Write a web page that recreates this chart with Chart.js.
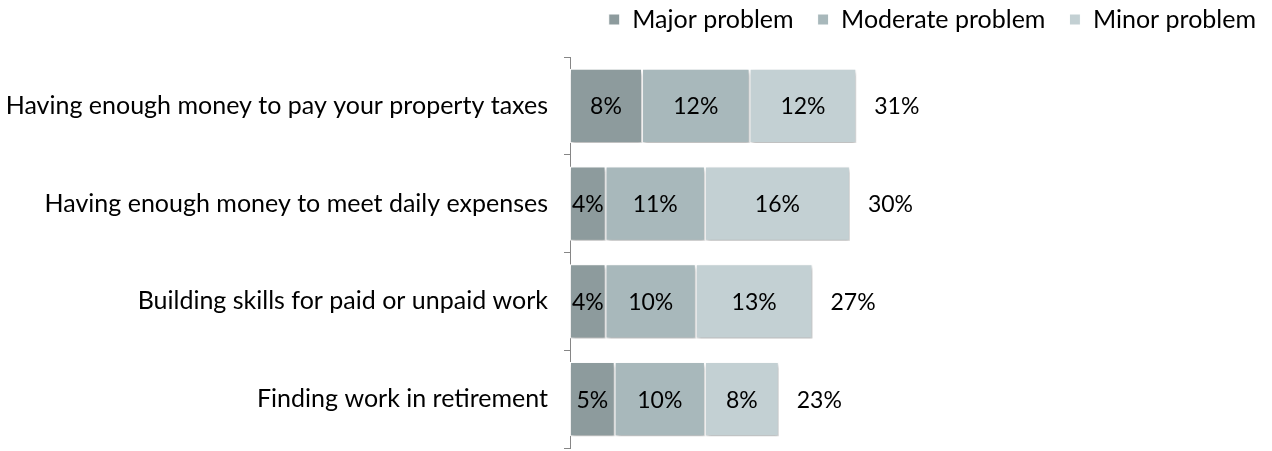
<!DOCTYPE html>
<html lang="en">
<head>
  <meta charset="UTF-8">
  <title>Problems in retirement</title>
  <script src="https://cdn.jsdelivr.net/npm/chart.js"></script>
  <style>
    html, body { margin: 0; padding: 0; background: #fff; overflow: hidden; }
  </style>
</head>
<body>
  <canvas id="problemChart" width="1272" height="451"></canvas>

  <script>
    const categories = [
      'Having enough money to pay your property taxes',
      'Having enough money to meet daily expenses',
      'Building skills for paid or unpaid work',
      'Finding work in retirement'
    ];
    const majorProblem = [7.9, 3.9, 3.9, 4.9];
    const moderateProblem = [11.8, 10.9, 9.9, 9.9];
    const minorProblem = [11.7, 15.9, 12.8, 8.1];
    const totals = [31, 30, 27, 23];

    const FONT = 'Lato, "Open Sans", sans-serif';

    // draws the % inside each segment and the total after the bar
    const labelPlugin = {
      id: 'labels',
      afterDatasetsDraw(chart) {
        const ctx = chart.ctx;
        ctx.save();
        ctx.font = '23px ' + FONT;
        ctx.fillStyle = '#000';
        ctx.textBaseline = 'middle';
        ctx.textAlign = 'center';
        chart.data.datasets.forEach((ds, i) => {
          chart.getDatasetMeta(i).data.forEach((bar, j) => {
            ctx.fillText(Math.round(ds.data[j]) + '%', (bar.base + bar.x) / 2, bar.y + 1);
          });
        });
        const last = chart.getDatasetMeta(chart.data.datasets.length - 1);
        ctx.textAlign = 'left';
        last.data.forEach((bar, j) => {
          ctx.fillText(totals[j] + '%', bar.x + 18, bar.y + 1);
        });
        ctx.restore();
      }
    };

    const shadowPlugin = {
      id: 'shadow',
      beforeDatasetsDraw(chart) {
        const ctx = chart.ctx;
        ctx.save();
        ctx.shadowColor = 'rgba(0,0,0,0.28)';
        ctx.shadowBlur = 4;
        ctx.shadowOffsetX = 1;
        ctx.shadowOffsetY = 3;
      },
      afterDatasetsDraw(chart) {
        chart.ctx.restore();
      }
    };

    new Chart(document.getElementById('problemChart'), {
      type: 'bar',
      data: {
        labels: categories,
        datasets: [
          { label: 'Major problem', data: majorProblem, backgroundColor: '#8d9b9d' },
          { label: 'Moderate problem', data: moderateProblem, backgroundColor: '#a8b8bb' },
          { label: 'Minor problem', data: minorProblem, backgroundColor: '#c3d0d3' }
        ]
      },
      options: {
        indexAxis: 'y',
        responsive: false,
        animation: false,
        datasets: {
          bar: {
            categoryPercentage: 1,
            barPercentage: 0.76,
            borderColor: '#ffffff',
            borderWidth: 1,
            borderSkipped: false
          }
        },
        layout: { padding: { left: 0, right: -8, top: -17, bottom: 3 } },
        scales: {
          x: {
            stacked: true,
            position: 'top',
            min: 0,
            max: 77,
            // kept only as an empty gap under the legend
            ticks: { display: false },
            grid: { display: false },
            border: { display: false },
            afterFit(scale) { scale.height = 15; }
          },
          y: {
            stacked: true,
            afterFit(scale) {
              scale.width = 570;
              scale.paddingTop = 0;
              scale.paddingBottom = 0;
            },
            border: { display: true, color: '#868686', width: 1 },
            grid: {
              offset: true,
              drawOnChartArea: false,
              drawTicks: true,
              tickLength: 6,
              color: '#868686'
            },
            ticks: {
              color: '#000',
              padding: 16,
              font: { family: FONT, size: 25 }
            }
          }
        },
        plugins: {
          legend: {
            position: 'top',
            align: 'end',
            labels: {
              color: '#000',
              boxWidth: 11,
              boxHeight: 11,
              padding: 24,
              font: { family: FONT, size: 25 }
            }
          },
          tooltip: { enabled: false }
        }
      },
      plugins: [shadowPlugin, labelPlugin]
    });
  </script>
</body>
</html>
